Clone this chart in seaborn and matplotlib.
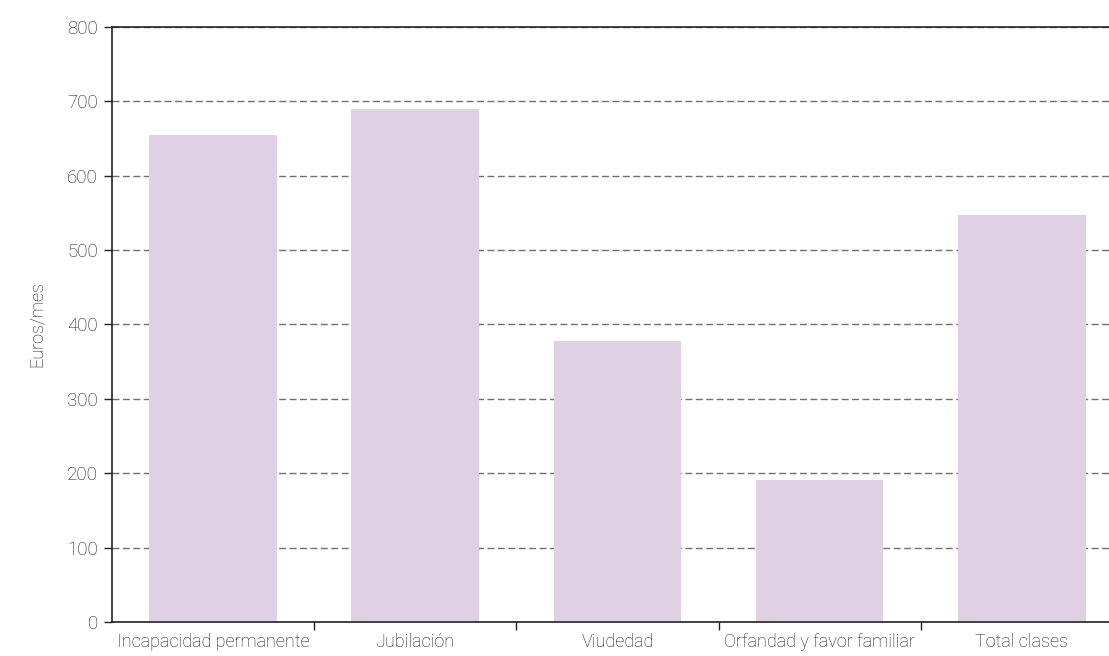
import numpy as np
import pandas as pd
import seaborn as sns
import matplotlib.pyplot as plt
from matplotlib.ticker import FixedLocator

categories = ["Incapacidad permanente", "Jubilación", "Viudedad",
              "Orfandad y favor familiar", "Total clases"]
values = [654, 689, 378, 191, 547]
y_ticks = [0, 100, 200, 300, 400, 500, 600, 700, 800]

df = pd.DataFrame({"clase": categories, "euros": values})

sns.set_theme(style="white")
plt.rcParams["font.family"] = ["Roboto", "DejaVu Sans"]
plt.rcParams["font.weight"] = "light"

fig = plt.figure(figsize=(11.09, 6.56), dpi=100)
ax = fig.add_axes([0.1007, 0.0514, 0.912, 0.9079])

ax.yaxis.grid(True, linestyle=(0, (5, 2.5)), color="#707070", linewidth=1.0)
ax.set_axisbelow(True)

sns.barplot(data=df, x="clase", y="euros", color="#dfd0e3", saturation=1,
            width=0.63, linewidth=0, ax=ax)

ax.set_xlim(-0.5, 4.5)
ax.set_ylim(0, 800)
ax.set_yticks(y_ticks)
ax.set_xlabel("")
ax.set_ylabel("Euros/mes", fontsize=13, color="#1a1a1a", labelpad=15,
              fontweight="light")

ax.xaxis.set_minor_locator(FixedLocator(np.arange(0.5, len(categories) - 0.5, 1)))
ax.tick_params(axis="x", which="major", length=0, pad=8, labelsize=13,
               labelcolor="#1a1a1a")
ax.tick_params(axis="x", which="minor", length=6, width=1, color="#222222",
               direction="out", bottom=True)
ax.tick_params(axis="y", length=6, width=1, color="#222222", direction="out",
               left=True, labelsize=13.5, labelcolor="#1a1a1a", pad=4)
for lab in ax.get_xticklabels() + ax.get_yticklabels():
    lab.set_fontweight("light")

for side in ["left", "bottom", "top"]:
    ax.spines[side].set_visible(True)
    ax.spines[side].set_color("#222222")
    ax.spines[side].set_linewidth(1.2)
ax.spines["right"].set_visible(False)

fig.savefig("out.png", dpi=100)
